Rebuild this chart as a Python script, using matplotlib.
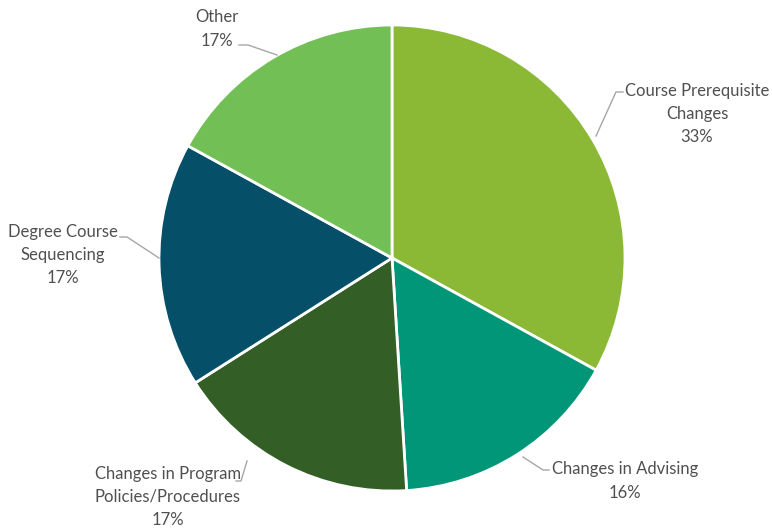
import matplotlib
matplotlib.use("Agg")
import matplotlib.pyplot as plt

categories = ["Course Prerequisite\nChanges", "Changes in Advising",
              "Changes in Program\nPolicies/Procedures", "Degree Course\nSequencing", "Other"]
values = [33, 16, 17, 17, 17]
colors = ["#8BB936", "#019677", "#335E25", "#064F69", "#72BF55"]

# label placement (pixel space, y down) and leader-line paths
label_xy = [(697, 114), (625, 481), (168, 497), (63, 255), (217, 29)]
leaders = [
    [(623, 92), (616, 92), (596, 136)],
    [(549, 470), (543, 470), (523, 457)],
    [(236, 481), (241, 481), (247, 461)],
    [(120, 237), (127, 237), (159, 258)],
    [(239, 45), (248, 45), (277, 55)],
]

W, H = 772, 529
fig = plt.figure(figsize=(W / 100, H / 100), dpi=100)
ax = fig.add_axes([0, 0, 1, 1])

cx, cy, r = 392, H - 258, 233
ax.pie(values, colors=colors, startangle=90, counterclock=False,
       center=(cx, cy), radius=r, frame=True,
       wedgeprops=dict(edgecolor="white", linewidth=2))
ax.set_xlim(0, W)
ax.set_ylim(0, H)
ax.set_aspect("equal")
ax.axis("off")

for cat, v, (lx, ly), path in zip(categories, values, label_xy, leaders):
    ax.text(lx, H - ly, f"{cat}\n{v}%", ha="center", va="center",
            fontsize=12, color="#505050", family="Lato", linespacing=1.55)
    xs = [p[0] for p in path]
    ys = [H - p[1] for p in path]
    ax.plot(xs, ys, color="#A6A6A6", lw=1)

fig.savefig("out.png", dpi=100)
